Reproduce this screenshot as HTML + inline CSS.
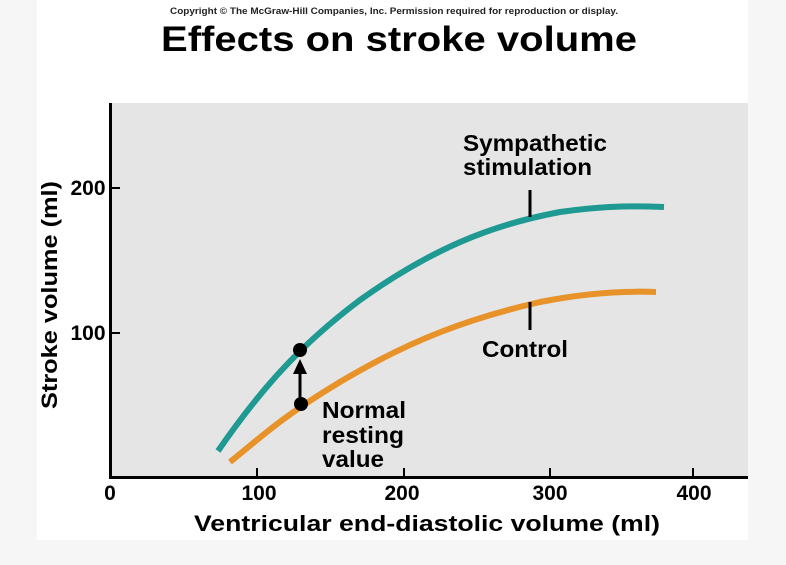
<!DOCTYPE html>
<html><head><meta charset="utf-8"><style>
body{margin:0;width:786px;height:565px;background:#f6f6f6;overflow:hidden}
svg{display:block;font-family:"Liberation Sans",Arial,sans-serif}
</style></head><body>
<svg width="786" height="565" viewBox="0 0 786 565">
<rect x="37" y="0" width="711" height="540" fill="#fff"/>
<rect x="110" y="103" width="638" height="375" fill="#e5e5e5"/>
<text x="394" y="14" font-size="9" font-weight="bold" text-anchor="middle" fill="#222" textLength="448" lengthAdjust="spacingAndGlyphs">Copyright © The McGraw-Hill Companies, Inc. Permission required for reproduction or display.</text>
<text x="399" y="51" font-size="35" font-weight="bold" text-anchor="middle" textLength="476" lengthAdjust="spacingAndGlyphs">Effects on stroke volume</text>
<line x1="110.5" y1="103" x2="110.5" y2="479" stroke="#000" stroke-width="3"/>
<line x1="109" y1="477.5" x2="748" y2="477.5" stroke="#000" stroke-width="3"/>
<g stroke="#000" stroke-width="2">
<line x1="110" y1="188" x2="120" y2="188"/><line x1="110" y1="333" x2="120" y2="333"/>
<line x1="257" y1="468" x2="257" y2="477"/><line x1="404" y1="468" x2="404" y2="477"/>
<line x1="550" y1="468" x2="550" y2="477"/><line x1="693" y1="468" x2="693" y2="477"/>
</g>
<g font-size="21" font-weight="bold" text-anchor="middle">
<text x="110" y="500">0</text><text x="259" y="500">100</text><text x="402" y="500">200</text>
<text x="550" y="500">300</text><text x="694" y="500">400</text>
<text x="88" y="195">200</text><text x="88" y="340">100</text>
<text x="427" y="531" font-size="22" textLength="466" lengthAdjust="spacingAndGlyphs">Ventricular end-diastolic volume (ml)</text>
<text transform="translate(57,295) rotate(-90)" font-size="22" textLength="228" lengthAdjust="spacingAndGlyphs">Stroke volume (ml)</text>
</g>
<path d="M218 451 C260 390 300 345 360 300 C430 250 490 225 560 212 C610 205 640 206 664 207" fill="none" stroke="#1e9a92" stroke-width="6"/>
<path d="M230 462 C260 438 280 418 340 382 C410 340 470 318 540 302 C590 292 630 291 656 292" fill="none" stroke="#e8922a" stroke-width="6"/>
<line x1="530" y1="190" x2="530" y2="217" stroke="#000" stroke-width="3"/>
<line x1="530" y1="302" x2="530" y2="330" stroke="#000" stroke-width="3"/>
<line x1="300" y1="402" x2="300" y2="372" stroke="#000" stroke-width="3"/>
<polygon points="300,359 293,374 307,374" fill="#000"/>
<circle cx="300" cy="350" r="7" fill="#000"/>
<circle cx="301" cy="404" r="7" fill="#000"/>
<g font-size="23" font-weight="bold" lengthAdjust="spacingAndGlyphs">
<text x="463" y="151" textLength="144" lengthAdjust="spacingAndGlyphs">Sympathetic</text><text x="463" y="175" textLength="129" lengthAdjust="spacingAndGlyphs">stimulation</text>
<text x="482" y="357" textLength="86" lengthAdjust="spacingAndGlyphs">Control</text>
<text x="322" y="418" textLength="84" lengthAdjust="spacingAndGlyphs">Normal</text><text x="322" y="443" textLength="82" lengthAdjust="spacingAndGlyphs">resting</text><text x="322" y="467" textLength="62" lengthAdjust="spacingAndGlyphs">value</text>
</g>
</svg>
</body></html>
